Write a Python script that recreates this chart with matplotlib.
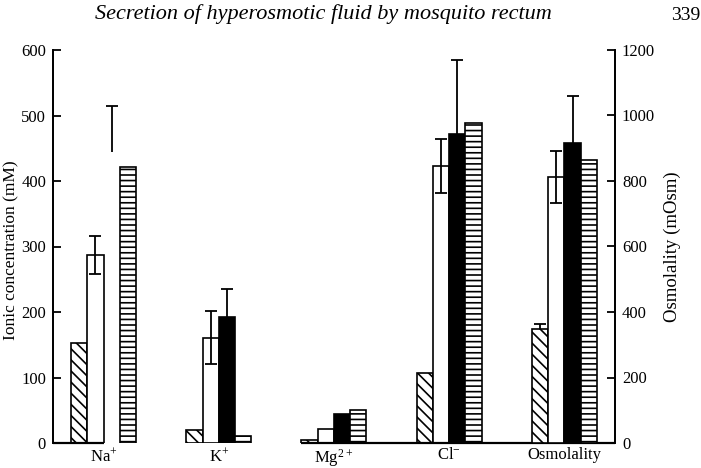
import numpy as np
import matplotlib.pyplot as plt

plt.rcParams['font.family'] = ['Liberation Serif', 'DejaVu Serif']
plt.rcParams['mathtext.fontset'] = 'custom'
plt.rcParams['mathtext.rm'] = 'Liberation Serif'
plt.rcParams['mathtext.default'] = 'regular'
plt.rcParams['hatch.linewidth'] = 1.2

## Données
categories = ['Na$^{+}$', 'K$^{+}$', 'Mg$^{2+}$', 'Cl$^{-}$', 'Osmolality']

# concentrations ioniques (mM) : Na, K, Mg, Cl
ion_hatched = [153, 20, 5, 107]
ion_white = [287, 161, 22, 423]
ion_white_err = [29, 41, 0, 41]
ion_black = [445, 193, 44, 472]
ion_black_err = [70, 42, 0, 112]
ion_horiz = [422, 10, 50, 488]

# osmolalité (mOsm)
osm_hatched = [348]
osm_hatched_err = [15]
osm_white = [812]
osm_white_err = [80]
osm_black = [916]
osm_black_err = [144]
osm_horiz = [864]

## Mise en page
fig = plt.figure(figsize=(7.01, 4.68), dpi=100)
ax = fig.add_axes([53/701, 1 - 443/468, 562/701, 393/468])
ax2 = ax.twinx()

w = 1.0
step = 7.09
start = 1.11
left = start + step*np.arange(5)
centers = left + 2*w

def draw_group(a, x0, hat, wht, wht_err, blk, blk_err, hor, skip_black=()):
    x0 = np.asarray(x0)
    a.bar(x0 + 0.5*w, hat, w, facecolor='white', edgecolor='black',
          hatch='\\\\\\', linewidth=1.2, zorder=2)
    a.bar(x0 + 1.5*w, wht, w, facecolor='white', edgecolor='black',
          linewidth=1.2, zorder=2)
    # la barre noire du Na+ n'est pas imprimée sur la figure
    keep = [i for i in range(len(blk)) if i not in skip_black]
    a.bar(x0[keep] + 2.5*w, np.asarray(blk)[keep], w, facecolor='black',
          edgecolor='black', linewidth=1.2, zorder=2)
    a.bar(x0 + 3.5*w, hor, w, facecolor='white', edgecolor='black',
          hatch='---', linewidth=1.2, zorder=2)

    ekw = dict(fmt='none', ecolor='black', elinewidth=1.3, capsize=4,
               capthick=1.3, zorder=3)
    we = np.asarray(wht_err)
    m = we > 0
    if m.any():
        a.errorbar((x0 + 1.5*w)[m], np.asarray(wht)[m], yerr=we[m], **ekw)
    be = np.asarray(blk_err)
    m = be > 0
    if m.any():
        eb = a.errorbar((x0 + 2.5*w)[m], np.asarray(blk)[m],
                        yerr=[np.zeros(m.sum()), be[m]], **ekw)
        eb[1][0].set_visible(False)

draw_group(ax, left[:4], ion_hatched, ion_white, ion_white_err,
           ion_black, ion_black_err, ion_horiz, skip_black=(0,))
draw_group(ax2, left[4:], osm_hatched, osm_white, osm_white_err,
           osm_black, osm_black_err, osm_horiz)
eb = ax2.errorbar(left[4:] + 0.5*w, osm_hatched,
                  yerr=[[0], osm_hatched_err], fmt='none', ecolor='black',
                  elinewidth=1.3, capsize=4, capthick=1.3, zorder=3)
eb[1][0].set_visible(False)

ax.set_xlim(0, 562/16.25)
ax.set_ylim(0, 600)
ax2.set_ylim(0, 1200)
ax.set_yticks(np.arange(0, 601, 100))
ax2.set_yticks(np.arange(0, 1201, 200))
ax.set_xticks(centers)
ax.set_xticklabels(categories, fontsize=12)
ax.tick_params(axis='x', length=0, pad=3)
ax.tick_params(axis='y', direction='in', length=6, width=1.3, labelsize=12, pad=5)
ax2.tick_params(axis='y', direction='in', length=6, width=1.3, labelsize=12, pad=5)

for a in (ax, ax2):
    a.spines['top'].set_visible(False)
    a.spines['bottom'].set_visible(False)
    a.spines['left'].set_linewidth(1.3)
    a.spines['right'].set_linewidth(1.3)

# ligne de base (interrompue sur le scan)
ax.hlines(0, 0, start + 2*w, color='black', linewidth=1.6, clip_on=False)
ax.hlines(0, left[2], 562/16.25, color='black', linewidth=1.6, clip_on=False)

ax.set_ylabel('Ionic concentration (mM)', fontsize=12.5)
ax.yaxis.set_label_coords(-0.06, 0.49)
ax2.set_ylabel('Osmolality (mOsm)', fontsize=13.5, rotation=90)
ax2.yaxis.set_label_coords(1.087, 0.5)

fig.text(0.462, 1 - 14/468, 'Secretion of hyperosmotic fluid by mosquito rectum',
         fontsize=16, style='italic', ha='center', va='center')
fig.text(700/701, 1 - 16/468, '339', fontsize=14, ha='right', va='center')

fig.savefig('out.png', dpi=100)
